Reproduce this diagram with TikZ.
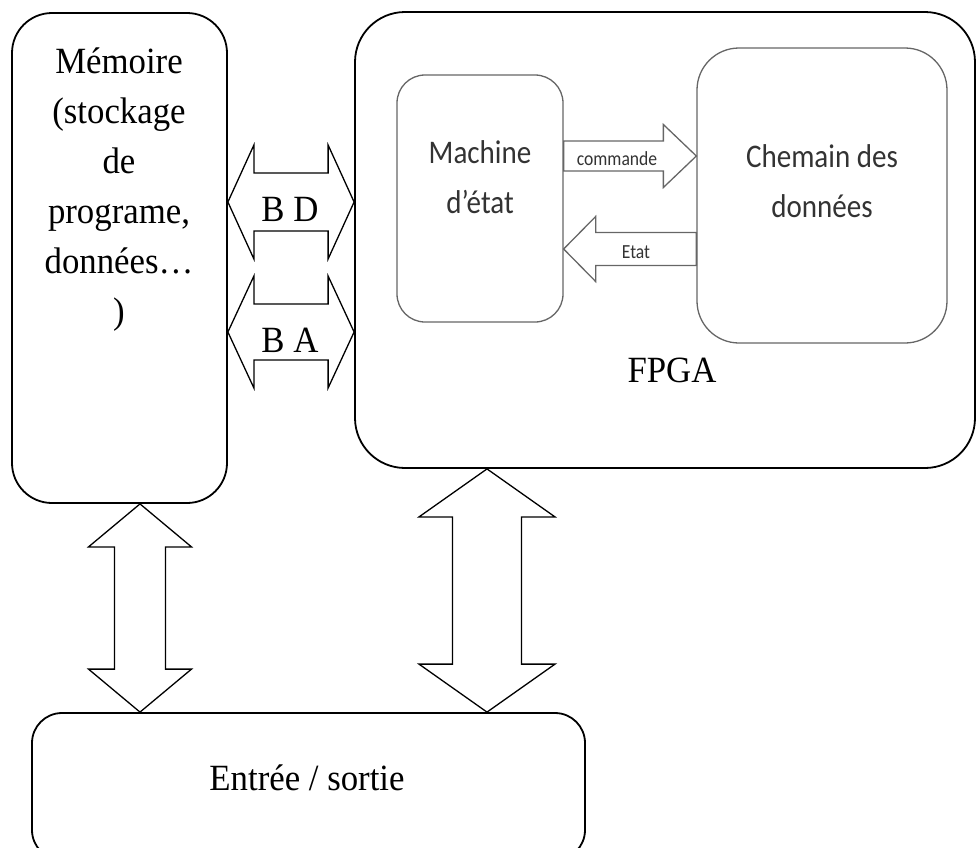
\documentclass[tikz,border=0pt]{standalone}
\usepackage{fontspec}
\setmainfont{Liberation Serif}[FakeStretch=0.94]
\newfontfamily\calsans{Carlito}[FakeStretch=0.88]
\usetikzlibrary{calc}

% block arrows drawn as closed outlines between two points
\tikzset{
  % double horizontal arrow: head length / head half-height / shaft half-height
  hdbl/.style args={#1/#2/#3}{to path={
    -- ($(\tikztostart)+(#1,-#2)$) -- ($(\tikztostart)+(#1,-#3)$)
    -- ($(\tikztotarget)+(-#1,-#3)$) -- ($(\tikztotarget)+(-#1,-#2)$)
    -- (\tikztotarget)
    -- ($(\tikztotarget)+(-#1,#2)$) -- ($(\tikztotarget)+(-#1,#3)$)
    -- ($(\tikztostart)+(#1,#3)$) -- ($(\tikztostart)+(#1,#2)$) -- cycle}},
  % double vertical arrow: head length / head half-width / shaft half-width
  vdbl/.style args={#1/#2/#3}{to path={
    -- ($(\tikztostart)+(#2,#1)$) -- ($(\tikztostart)+(#3,#1)$)
    -- ($(\tikztotarget)+(#3,-#1)$) -- ($(\tikztotarget)+(#2,-#1)$)
    -- (\tikztotarget)
    -- ($(\tikztotarget)+(-#2,-#1)$) -- ($(\tikztotarget)+(-#3,-#1)$)
    -- ($(\tikztostart)+(-#3,#1)$) -- ($(\tikztostart)+(-#2,#1)$) -- cycle}},
  % single horizontal arrow, tip at the target: signed head length / head half-height / shaft half-height
  sarr/.style args={#1/#2/#3}{to path={
    ($(\tikztostart)+(0,-#3)$)
    -- ($(\tikztotarget)+(-#1,-#3)$) -- ($(\tikztotarget)+(-#1,-#2)$)
    -- (\tikztotarget)
    -- ($(\tikztotarget)+(-#1,#2)$) -- ($(\tikztotarget)+(-#1,#3)$)
    -- ($(\tikztostart)+(0,#3)$) -- cycle}},
}

\begin{document}
\begin{tikzpicture}[x=1pt,y=-1pt,
  outerbox/.style={draw=black, line width=1.8pt, rounded corners=#1, inner sep=0pt},
  innerbox/.style={draw=black!60, line width=1.3pt, rounded corners=#1, inner sep=0pt},
  bus/.style={draw=black, line width=1.3pt, line join=miter},
  sig/.style={draw=black!60, line width=1.3pt, line join=miter},
  serif/.style={font=\fontsize{37}{50}\selectfont, align=center, inner sep=0pt, anchor=base},
  sans/.style={font=\calsans\fontsize{33}{50}\selectfont, color=black!80, align=center, inner sep=0pt, anchor=base},
  small/.style={font=\calsans\fontsize{20}{24}\selectfont, color=black!80, inner sep=0pt, anchor=base},
]
\useasboundingbox (0,0) rectangle (977,847);

% main blocks
\node[outerbox=40, minimum width=215pt, minimum height=490pt] (mem) at (119.5,258) {};
\node[outerbox=50, minimum width=620pt, minimum height=456pt] (fpga) at (665,240) {};
\node[innerbox=28, minimum width=166pt, minimum height=247pt] (mach) at (480,198.5) {};
\node[innerbox=42, minimum width=250pt, minimum height=295pt] (chem) at (822,195.5) {};
\node[outerbox=30, minimum width=553pt, minimum height=147pt] (io) at (308.5,786.5) {};

% texts (a multi-line node is placed by the baseline of its last line)
\node[serif] (memtxt) at (119,323) {Mémoire\\(stockage\\de\\programe,\\données…\\)};
\node[serif] (fpgatxt) at (672,382) {FPGA};
\node[sans] (machtxt) at (480,213) {Machine\\d’état};
\node[sans] (chemtxt) at (822,217) {Chemain des\\données};
\node[serif] (iotxt) at (307,790) {Entrée / sortie};

% data and address buses between memory and FPGA
\coordinate (bdL) at (mem.east |- 0,202);
\coordinate (bdR) at (fpga.west |- 0,202);
\coordinate (baL) at (mem.east |- 0,332);
\coordinate (baR) at (fpga.west |- 0,332);
\draw[bus] (bdL) to[hdbl=26/57/29] (bdR);
\draw[bus] (baL) to[hdbl=26/56/28] (baR);
\node[serif] (bdtxt) at (290,221) {B D};
\node[serif] (batxt) at (290,352) {B A};

% links to the input/output block
\coordinate (m1) at (mem.south -| 140,0);
\coordinate (m2) at (io.north -| 140,0);
\coordinate (f1) at (fpga.south -| 487,0);
\coordinate (f2) at (io.north -| 487,0);
\draw[bus] (m1) to[vdbl=43/51.5/25.5] (m2);
\draw[bus] (f1) to[vdbl=48/68/34.5] (f2);

% control and status inside the FPGA
\coordinate (c1) at (mach.east |- 0,156);
\coordinate (c2) at (chem.west |- 0,156);
\coordinate (e1) at (chem.west |- 0,249);
\coordinate (e2) at (mach.east |- 0,249);
\draw[sig] (c1) to[sarr=33/31.5/15] (c2);
\draw[sig] (e1) to[sarr=-32/32.5/16.5] (e2);
\node[small] (cmdtxt) at (617,165) {commande};
\node[small] (etattxt) at (636,258) {Etat};

\end{tikzpicture}
\end{document}
